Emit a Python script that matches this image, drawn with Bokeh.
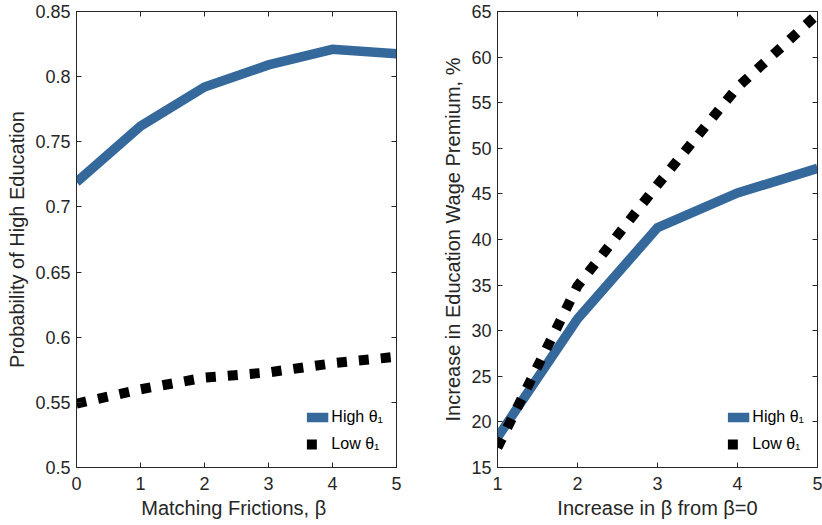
from bokeh.plotting import figure
from bokeh.layouts import row
from bokeh.models import Range1d, LinearAxis, FixedTicker, Legend, LegendItem
from bokeh.embed import file_html
from bokeh.resources import INLINE

# ---- data ----
left_x = [0, 1, 2, 3, 4, 5]
left_high = [0.719, 0.762, 0.792, 0.809, 0.821, 0.8175]
left_low = [0.549, 0.560, 0.569, 0.573, 0.580, 0.585]
left_xticks = [0, 1, 2, 3, 4, 5]
left_yticks = [0.5, 0.55, 0.6, 0.65, 0.7, 0.75, 0.8, 0.85]
left_ylabels = ["0.5", "0.55", "0.6", "0.65", "0.7", "0.75", "0.8", "0.85"]

right_x = [1, 2, 3, 4, 5]
right_high = [18.3, 31.3, 41.3, 45.1, 47.8]
right_low = [17.2, 34.9, 46.0, 56.7, 64.7]
right_xticks = [1, 2, 3, 4, 5]
right_yticks = [15, 20, 25, 30, 35, 40, 45, 50, 55, 60, 65]

series_names = ["High θ₁", "Low θ₁"]

BLUE = "#35689b"
INK = "#262626"
FONT = "Liberation Sans"


def style_axis(ax, show_labels=True):
    ax.axis_line_color = INK
    ax.major_tick_line_color = INK
    ax.major_tick_in = 5
    ax.major_tick_out = 0
    ax.minor_tick_line_color = None
    ax.major_label_text_font = FONT
    ax.axis_label_text_font = FONT
    ax.axis_label_text_color = INK
    ax.axis_label_text_font_style = "normal"
    if show_labels:
        ax.major_label_text_color = INK
        ax.major_label_text_font_size = "18px"
        ax.axis_label_text_font_size = "20px"
    else:
        ax.major_label_text_color = None
        ax.major_label_text_font_size = "1px"
        ax.major_label_standoff = 0


def make_panel(xs, high, low, xr, yr, xticks, yticks, ylabels, xlabel, ylabel,
               width, left_border, right_border):
    p = figure(width=width, height=525, output_backend="svg", toolbar_location=None,
               x_range=Range1d(*xr), y_range=Range1d(*yr),
               min_border_left=left_border, min_border_right=right_border,
               min_border_top=11, min_border_bottom=58)
    p.grid.visible = False
    p.outline_line_color = INK
    p.background_fill_color = "white"
    p.border_fill_color = "white"

    p.xaxis.ticker = FixedTicker(ticks=xticks)
    p.yaxis.ticker = FixedTicker(ticks=yticks)
    if ylabels is not None:
        p.yaxis.major_label_overrides = {t: l for t, l in zip(yticks, ylabels)}
    p.xaxis.axis_label = xlabel
    p.yaxis.axis_label = ylabel
    for ax in p.xaxis + p.yaxis:
        style_axis(ax)
    p.xaxis.major_label_standoff = 9
    p.yaxis.major_label_standoff = 6
    p.xaxis.axis_label_standoff = 4
    p.yaxis.axis_label_standoff = 4

    top = LinearAxis(ticker=FixedTicker(ticks=xticks))
    right = LinearAxis(ticker=FixedTicker(ticks=yticks))
    style_axis(top, False)
    style_axis(right, False)
    p.add_layout(top, "above")
    p.add_layout(right, "right")

    r_high = p.line(xs, high, line_color=BLUE, line_width=9.5, line_join="miter")
    r_low = p.line(xs, low, line_color="black", line_width=10, line_dash="10 12",
                   line_cap="butt")

    legend = Legend(items=[LegendItem(label=series_names[0], renderers=[r_high]),
                           LegendItem(label=series_names[1], renderers=[r_low])],
                    location="bottom_right")
    legend.border_line_color = None
    legend.background_fill_alpha = 0
    legend.label_text_font = FONT
    legend.label_text_font_size = "16px"
    legend.label_text_color = "black"
    legend.glyph_width = 22
    legend.glyph_height = 12
    legend.label_standoff = 3
    legend.label_height = 20
    legend.spacing = 7
    legend.padding = 4
    legend.margin = 13
    p.add_layout(legend)
    return p


p1 = make_panel(left_x, left_high, left_low, (0, 5), (0.5, 0.85), left_xticks,
                left_yticks, left_ylabels, "Matching Frictions,  β",
                "Probability of High Education", 411, 76, 15)
p2 = make_panel(right_x, right_high, right_low, (1, 5), (15, 65), right_xticks,
                right_yticks, None, "Increase in β from β=0",
                "Increase in Education Wage Premium, %", 411, 86, 5)

layout = row(p1, p2)
open("out.html", "w").write(file_html(layout, INLINE))
